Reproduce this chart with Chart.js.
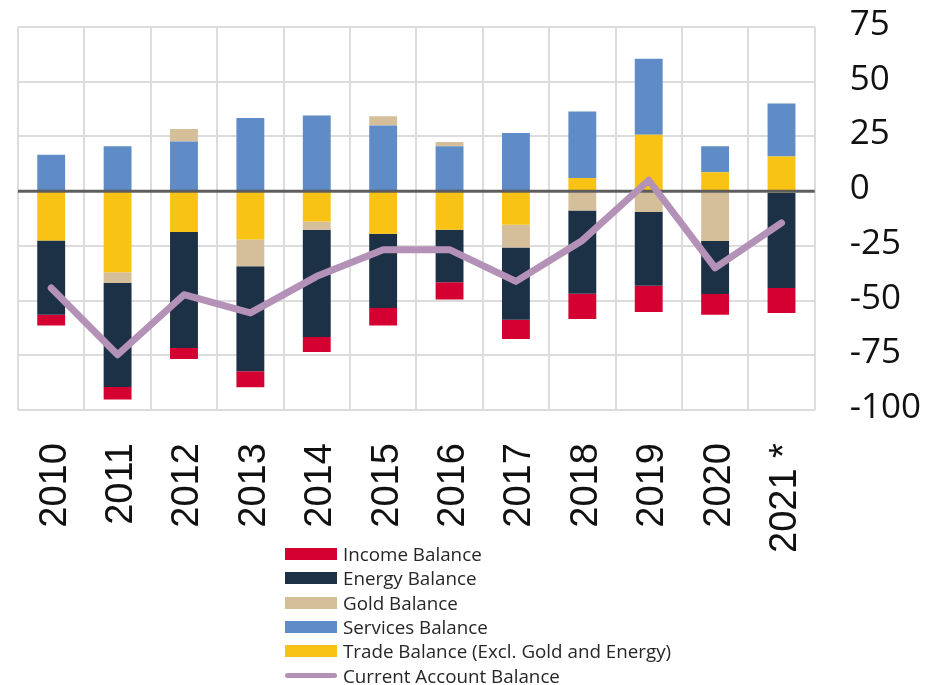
<!DOCTYPE html>
<html>
<head>
    <title>Current Account Balance Breakdown</title>
    <script src="https://cdn.jsdelivr.net/npm/chart.js"></script>
    <style>
        body { margin: 0; background: #fff; overflow: hidden; }
        #wrap { position: relative; width: 936px; height: 685px; }
        #chart-box { position: absolute; left: 0; top: 0; width: 936px; height: 586px; }
        #legend { position: absolute; left: 285px; top: 542px; font-family: "Open Sans", sans-serif; font-size: 18.8px; color: #262626; }
        .item { height: 24.3px; display: flex; align-items: center; white-space: nowrap; }
        .swatch { width: 52px; height: 12px; margin-right: 6px; }
        .swatch.line { height: 5px; border-radius: 3px; }
    </style>
    <script>
        // Years (2021 is an estimate)
        const years = ["2010", "2011", "2012", "2013", "2014", "2015", "2016", "2017", "2018", "2019", "2020", "2021 *"];

        // Components, billion USD
        const incomeBalance   = [-5.0, -5.8, -5.0, -7.3, -6.8, -8.1, -7.9, -8.8, -11.6, -12.0, -9.4, -11.4];
        const energyBalance   = [-33.9, -47.5, -53.0, -48.0, -49.0, -33.9, -24.0, -33.0, -38.0, -33.7, -24.3, -43.4];
        const goldBalance     = [0, -4.9, 5.7, -12.2, -3.8, 4.2, 2.0, -10.4, -8.8, -9.5, -22.7, -0.8];
        const servicesBalance = [16.7, 20.5, 22.7, 33.4, 34.6, 30.0, 20.5, 26.6, 30.4, 34.7, 11.9, 24.1];
        const tradeBalance    = [-22.5, -37.0, -18.6, -22.1, -13.8, -19.4, -17.6, -15.3, 6.0, 25.8, 8.6, 15.9];
        const currentAccount  = [-44.2, -74.7, -47.3, -55.6, -38.9, -26.7, -26.7, -41.2, -22.5, 5.0, -35.0, -14.5];

        const yTicks = { min: -100, max: 75, step: 25 };

        const colors = {
            income: "#d50032",
            energy: "#1c3046",
            gold: "#d5bf9a",
            services: "#5f8cc6",
            trade: "#f8c315",
            current: "#b491b7"
        };

        // dark zero line drawn over the bars but under the line
        const zeroLine = {
            id: "zeroLine",
            beforeDatasetDraw(chart, args) {
                if (args.index !== 0) return;
                const { ctx, chartArea, scales } = chart;
                const y = scales.y.getPixelForValue(0);
                ctx.save();
                ctx.strokeStyle = "rgba(70,70,70,0.85)";
                ctx.lineWidth = 3;
                ctx.beginPath();
                ctx.moveTo(chartArea.left, y);
                ctx.lineTo(chartArea.right, y);
                ctx.stroke();
                ctx.restore();
            }
        };

        function bar(label, data, color) {
            return { type: "bar", label: label, data: data, backgroundColor: color, stack: "bal", borderWidth: 0 };
        }

        window.onload = () => {
            const ctx = document.getElementById("balanceChart").getContext("2d");
            const datasets = [
                {
                    type: "line", label: "Current Account Balance", data: currentAccount, stack: "ca",
                    borderColor: colors.current, borderWidth: 7, pointRadius: 0, tension: 0,
                    borderJoinStyle: "round", borderCapStyle: "round", fill: false
                },
                bar("Trade Balance (Excl. Gold and Energy)", tradeBalance, colors.trade),
                bar("Services Balance", servicesBalance, colors.services),
                bar("Gold Balance", goldBalance, colors.gold),
                bar("Energy Balance", energyBalance, colors.energy),
                bar("Income Balance", incomeBalance, colors.income)
            ];

            new Chart(ctx, {
                data: { labels: years, datasets: datasets },
                options: {
                    responsive: true,
                    maintainAspectRatio: false,
                    animation: false,
                    layout: { padding: { left: 18, right: 9, top: 0, bottom: 0 } },
                    datasets: { bar: { barPercentage: 0.42, categoryPercentage: 1.0 } },
                    scales: {
                        x: {
                            stacked: true,
                            grid: { color: "#dcdcdc", lineWidth: 2, drawTicks: false, offset: true },
                            border: { display: false },
                            ticks: {
                                minRotation: 90, maxRotation: 90, padding: 33, labelOffset: 4, color: "#111",
                                font: { family: "Liberation Sans", size: 38 }
                            }
                        },
                        y: {
                            position: "right",
                            stacked: true,
                            min: yTicks.min, max: yTicks.max,
                            // invisible tick marks push the labels out without padding the top
                            grid: { color: "#dcdcdc", lineWidth: 2, drawTicks: true, tickLength: 29, tickColor: "rgba(0,0,0,0)" },
                            border: { display: false },
                            ticks: {
                                stepSize: yTicks.step, padding: 6, labelOffset: -2, color: "#111",
                                font: { family: "Open Sans", size: 35 }
                            }
                        }
                    },
                    plugins: {
                        legend: { display: false },
                        tooltip: { enabled: false }
                    }
                },
                plugins: [zeroLine]
            });

            // legend in the original order
            const legendOrder = [
                ["Income Balance", colors.income, false],
                ["Energy Balance", colors.energy, false],
                ["Gold Balance", colors.gold, false],
                ["Services Balance", colors.services, false],
                ["Trade Balance (Excl. Gold and Energy)", colors.trade, false],
                ["Current Account Balance", colors.current, true]
            ];
            const legend = document.getElementById("legend");
            for (const [name, color, isLine] of legendOrder) {
                legend.innerHTML += `<div class="item"><span class="swatch${isLine ? " line" : ""}" style="background:${color}"></span>${name}</div>`;
            }
        };
    </script>
</head>
<body>
    <div id="wrap">
        <div id="chart-box"><canvas id="balanceChart"></canvas></div>
        <div id="legend"></div>
    </div>
</body>
</html>
